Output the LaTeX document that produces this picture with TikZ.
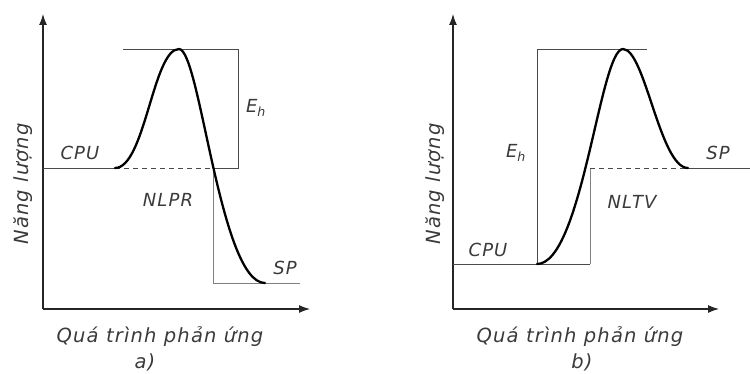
\documentclass[tikz,border=0pt]{standalone}
\usepackage{fontspec}
\newfontfamily\figfont[LetterSpace=6]{DejaVu Sans}
\usetikzlibrary{arrows.meta}
\definecolor{LevelGray}{HTML}{4A4A4A}
\definecolor{LabelGray}{HTML}{3A3A3A}

\begin{document}
\begin{tikzpicture}[x=1pt,y=-1pt,
  axis/.style={-{Latex[length=11pt,width=8pt]},line width=1.1pt,draw=black!85},
  level/.style={draw=LevelGray,line width=0.9pt},
  profile/.style={draw=black,line width=2.3pt,line cap=round},
  lbl/.style={font=\figfont\itshape\fontsize{18}{18}\selectfont,text=LabelGray,inner sep=0pt},
  axlbl/.style={font=\figfont\itshape\fontsize{19.5}{19.5}\selectfont,text=LabelGray,inner sep=0pt}
]
\useasboundingbox (0,0) rectangle (750,374);
% panel a)
\coordinate (oa) at (43,309);
\coordinate (ya) at (43,14);
\coordinate (xa) at (310,309);
\draw[axis] (oa) -- (ya);
\draw[axis] (oa) -- (xa);
\coordinate (cpua) at (115,168);
\coordinate (peaka) at (179,49);
\coordinate (cuta) at (213,168);
\coordinate (spa) at (265,283);
\draw[level] (43,168) -- (cpua);
\draw[level,dashed,dash pattern=on 5pt off 4pt] (cpua) -- (cuta);
\draw[level] (123,49) -- (238,49) -- (238,168) -- (cuta);
\draw[level,draw=gray] (cuta) -- (213,283) -- (300,283);
\draw[profile] (cpua) .. controls (145,168) and (153,49) .. (peaka)
  .. controls (200,49) and (220,283) .. (spa);
\node[lbl] (cpuA) at (80,153) {CPU};
\node[lbl] (eha) at (256,108) {E\textsubscript{h}};
\node[lbl] (nlpr) at (168,200) {NLPR};
\node[lbl] (spA) at (285,268) {SP};
\node[axlbl,rotate=90] (nla) at (23,184) {Năng lượng};
\node[axlbl] (qta) at (160,337) {Quá trình phản ứng};
\node[axlbl] (capa) at (145,362) {a)};
% panel b)
\coordinate (ob) at (453,309);
\coordinate (yb) at (453,14);
\coordinate (xb) at (719,309);
\draw[axis] (ob) -- (yb);
\draw[axis] (ob) -- (xb);
\coordinate (cpub) at (537,264);
\coordinate (cutb) at (590,168);
\coordinate (peakb) at (623,49);
\coordinate (spb) at (688,168);
\draw[level] (453,264) -- (cpub) -- (537,49) -- (647,49);
\draw[level] (cpub) -- (590,264);
\draw[level,draw=gray] (590,264) -- (cutb);
\draw[level,dashed,dash pattern=on 5pt off 4pt] (cutb) -- (spb);
\draw[level] (spb) -- (750,168);
\draw[profile] (cpub) .. controls (582,264) and (600,49) .. (peakb)
  .. controls (645,49) and (660,168) .. (spb);
\node[lbl] (ehb) at (516,153) {E\textsubscript{h}};
\node[lbl] (cpuB) at (488,250) {CPU};
\node[lbl] (nltv) at (632,202) {NLTV};
\node[lbl] (spB) at (718,153) {SP};
\node[axlbl,rotate=90] (nlb) at (435,184) {Năng lượng};
\node[axlbl] (qtb) at (580,337) {Quá trình phản ứng};
\node[axlbl] (capb) at (582,362) {b)};
\end{tikzpicture}
\end{document}
